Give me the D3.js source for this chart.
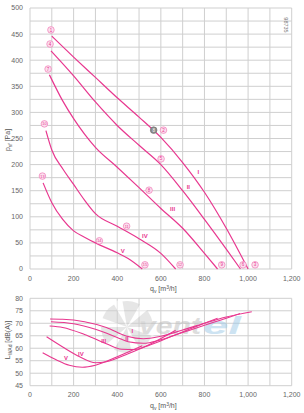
<!DOCTYPE html>
<html><head><meta charset="utf-8">
<script src="https://cdn.jsdelivr.net/npm/d3@7"></script>
<style>
html,body{margin:0;padding:0;background:#fff;}
svg{display:block;font-family:"Liberation Sans",Arial,sans-serif;}
</style></head>
<body>
<svg id="c" width="304" height="413"></svg>
<script>
// ---------- DATA ----------
const curveNames = ["I","II","III","IV","V"];
const pressureI   = [[100,446],[200,406],[300,367],[400,328],[500,291],[600,252],[700,204],[800,147],[900,78],[1000,0]];
const pressureII  = [[96,418],[200,370],[300,320],[400,275],[500,237],[600,200],[700,150],[800,95],[900,38],[965,0]];
const pressureIII = [[89,372],[150,322],[200,288],[300,233],[400,195],[500,156],[600,116],[700,78],[800,30],[860,0]];
const pressureIV  = [[73,265],[100,228],[150,192],[200,162],[250,132],[300,106],[400,82],[500,58],[600,30],[668,0]];
const pressureV   = [[60,165],[100,127],[150,95],[200,73],[250,61],[300,50],[400,31],[450,20],[515,0]];
const noiseI   = [[92,71.7],[150,71.6],[250,70.6],[350,68.3],[444,64.8],[520,63.8],[600,64.8],[700,67.3],[800,70],[900,72.5],[1017,74.6]];
const noiseII  = [[96,70.6],[200,69.8],[300,67.6],[400,64.3],[450,62.6],[520,62],[600,63.4],[700,66.3],[800,69.2],[900,72],[963,73.9]];
const noiseIII = [[90,68.9],[150,68.3],[250,65.5],[350,61.8],[420,59.6],[480,59.5],[550,61.3],[650,64.8],[750,68.3],[860,72]];
const noiseIV  = [[76,64.6],[150,60.5],[230,56.5],[300,54.2],[350,54.6],[450,57.8],[550,61.6],[668,67.2]];
const noiseV   = [[58,58.2],[120,55.4],[180,53.2],[240,52.4],[300,53.2],[400,56.6],[515,61]];
// operating point markers: [label, q, p, gray?]
const markers = [
  ["1",96,458,0],["4",92,431,0],["7",83,383,0],["10",66,278,0],["13",57,178,0],
  ["2",612,266,0],["5",601,211,0],["8",546,151,0],["11",443,82,0],["14",318,54,0],
  ["3",1032,8,0],["6",977,8,0],["9",879,8,0],["12",688,8,0],["15",527,8,0],
  ["8",567,266,1]
];
// curve labels: [text, q, p]
const topLabels = [["I",772,185],["II",726,158],["III",654,114],["IV",527,63],["V",425,35]];
const botLabels = [["I",469,66.9],["II",444,63.7],["III",338,62.9],["IV",233,57.7],["V",165,56.2]];
const qTicks = [0,200,400,600,800,1000,1200];
const pTicks = [0,50,100,150,200,250,300,350,400,450,500];
const LTicks = [45,50,55,60,65,70,75,80];

// ---------- DRAW ----------
const svg = d3.select("#c");
const pink = "#e8378f";
const gridC = "#cfcfcf";
const x = d3.scaleLinear().domain([0,1200]).range([30,291.7]);
const yP = d3.scaleLinear().domain([0,500]).range([269,8]);
const yL = d3.scaleLinear().domain([45,80]).range([385.7,298.3]);
const fmt = d3.format(",");

function grid(y, yDom, yStep){
  const g = svg.append("g");
  for(let q=0;q<=1200;q+=100){
    g.append("line").attr("x1",x(q)).attr("x2",x(q)).attr("y1",y(yDom[0])).attr("y2",y(yDom[1]))
     .attr("stroke",gridC).attr("stroke-width",1);
  }
  for(let v=yDom[0]; v<=yDom[1]+1e-9; v+=yStep){
    g.append("line").attr("x1",x(0)).attr("x2",x(1200)).attr("y1",y(v)).attr("y2",y(v))
     .attr("stroke",gridC).attr("stroke-width",1);
  }
}
grid(yP,[0,500],25);
grid(yL,[45,80],5);

// watermark in lower chart
const wm = svg.append("g").attr("opacity",0.5);
wm.append("circle").attr("cx",127).attr("cy",327).attr("r",26).attr("fill","#cfcfcf");
for(let i=0;i<6;i++){
  const a = i*Math.PI/3;
  wm.append("path").attr("d",`M127,327 L${127+28*Math.cos(a)},${327+28*Math.sin(a)} A28,28 0 0,1 ${127+28*Math.cos(a+0.35)},${327+28*Math.sin(a+0.35)} Z`)
    .attr("fill","#fff");
}
wm.append("text").attr("x",139).attr("y",334).attr("font-size",24).attr("font-weight","bold").attr("font-style","italic")
  .attr("fill","#bdbdbd").attr("textLength",62).attr("lengthAdjust","spacingAndGlyphs").text("vent");
wm.append("text").attr("x",203).attr("y",334).attr("font-size",24).attr("font-weight","bold").attr("font-style","italic")
  .attr("fill","#9cc8e6").attr("textLength",38).attr("lengthAdjust","spacingAndGlyphs").text("el");

// axes tick labels
const tickStyle = s => s.attr("font-size",7).attr("fill","#666");
pTicks.forEach(v=>{
  svg.append("text").attr("x",23).attr("y",yP(v)+2.4).attr("text-anchor","end").call(tickStyle).text(v);
});
LTicks.forEach(v=>{
  svg.append("text").attr("x",23).attr("y",yL(v)+2.4).attr("text-anchor","end").call(tickStyle).text(v);
});
qTicks.forEach(v=>{
  svg.append("text").attr("x",x(v)).attr("y",281).attr("text-anchor","middle").call(tickStyle).text(fmt(v));
  svg.append("text").attr("x",x(v)).attr("y",397).attr("text-anchor","middle").call(tickStyle).text(fmt(v));
});

// axis titles
function qTitle(yy){
  const t = svg.append("text").attr("x",150).attr("y",yy).attr("font-size",7).attr("fill","#555");
  t.append("tspan").text("q");
  t.append("tspan").attr("font-size",5).attr("dy",1.5).text("v");
  t.append("tspan").attr("dy",-1.5).text(" [m");
  t.append("tspan").attr("font-size",5).attr("dy",-2).text("3");
  t.append("tspan").attr("dy",2).text("/h]");
}
qTitle(291); qTitle(408);
{
  const t = svg.append("text").attr("transform","translate(10,140) rotate(-90)").attr("text-anchor","middle")
    .attr("font-size",7).attr("fill","#555");
  t.append("tspan").text("p");
  t.append("tspan").attr("font-size",5).attr("dy",1.5).text("sf");
  t.append("tspan").attr("dy",-1.5).text(" [Pa]");
}
{
  const t = svg.append("text").attr("transform","translate(10,340) rotate(-90)").attr("text-anchor","middle")
    .attr("font-size",7).attr("fill","#555");
  t.append("tspan").text("L");
  t.append("tspan").attr("font-size",5).attr("dy",1.5).text("WAd");
  t.append("tspan").attr("dy",-1.5).text(" [dB(A)]");
}
svg.append("text").attr("transform","translate(284,25) rotate(90)").attr("text-anchor","middle")
  .attr("font-size",5.5).attr("fill","#777").text("98735");

// curves
const lineP = d3.line().x(d=>x(d[0])).y(d=>yP(d[1])).curve(d3.curveMonotoneX);
const lineL = d3.line().x(d=>x(d[0])).y(d=>yL(d[1])).curve(d3.curveMonotoneX);
[pressureI,pressureII,pressureIII,pressureIV,pressureV].forEach(c=>{
  svg.append("path").attr("d",lineP(c)).attr("fill","none").attr("stroke",pink).attr("stroke-width",1.2);
});
[noiseI,noiseII,noiseIII,noiseIV,noiseV].forEach(c=>{
  svg.append("path").attr("d",lineL(c)).attr("fill","none").attr("stroke",pink).attr("stroke-width",1.1);
});

// markers
markers.forEach(m=>{
  const g = svg.append("g").attr("transform",`translate(${x(m[1])},${yP(m[2])})`);
  g.append("circle").attr("r",3.3).attr("fill",m[3]?"#8a8a8a":"#fbe0ee")
    .attr("stroke",m[3]?"#777":"#f07ab6").attr("stroke-width",0.7);
  g.append("text").attr("y",1.6).attr("text-anchor","middle").attr("font-size",m[0].length>1?3.8:4.5)
    .attr("fill",m[3]?"#fff":pink).text(m[0]);
});

// curve labels
topLabels.forEach(l=>{
  svg.append("text").attr("x",x(l[1])).attr("y",yP(l[2])+2).attr("text-anchor","middle")
    .attr("font-size",6).attr("font-weight","bold").attr("fill",pink).text(l[0]);
});
botLabels.forEach(l=>{
  svg.append("text").attr("x",x(l[1])).attr("y",yL(l[2])+2).attr("text-anchor","middle")
    .attr("font-size",6).attr("font-weight","bold").attr("fill",pink).text(l[0]);
});
</script>
</body></html>
